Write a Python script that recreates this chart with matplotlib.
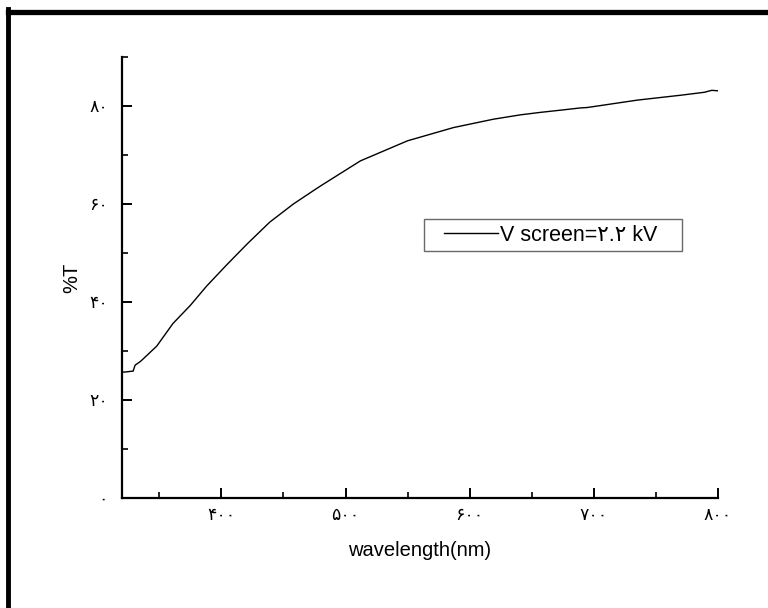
import matplotlib
matplotlib.use("Agg")
import matplotlib.pyplot as plt
from matplotlib.lines import Line2D
from matplotlib.legend_handler import HandlerLine2D
from matplotlib.ticker import MultipleLocator, FixedLocator

plt.rcParams['font.family'] = ['Liberation Sans', 'DejaVu Sans']

# data
wavelength = [320, 322, 329, 330.5, 335, 348, 361, 375, 388, 404, 421, 439, 458,
              474, 480, 512, 550, 587, 619, 641, 657, 675, 689, 695, 735, 770, 789, 795, 800]
transmit = [25.7, 25.7, 25.9, 27.1, 27.9, 31.0, 35.6, 39.3, 43.2, 47.5, 51.9, 56.3, 60.0,
            62.7, 63.7, 68.8, 72.9, 75.6, 77.3, 78.2, 78.7, 79.2, 79.6, 79.7, 81.2, 82.2, 82.8, 83.2, 83.1]

x_ticks = [400, 500, 600, 700, 800]
x_labels = ["۴۰۰", "۵۰۰", "۶۰۰", "۷۰۰", "۸۰۰"]
y_ticks = [0, 20, 40, 60, 80]
y_labels = ["۰", "۲۰", "۴۰", "۶۰", "۸۰"]
series_label = "V screen=۲.۲ kV"

fig = plt.figure(figsize=(7.68, 6.08), dpi=100)
ax = fig.add_axes([122/768, 110/608, 596/768, 441/608])

line, = ax.plot(wavelength, transmit, color="black", linewidth=1.0, label=series_label)

ax.set_xlim(320, 800)
ax.set_ylim(0, 90)
ax.xaxis.set_major_locator(FixedLocator(x_ticks))
ax.set_xticklabels(x_labels, fontsize=12.5)
ax.xaxis.set_minor_locator(MultipleLocator(50))
ax.yaxis.set_major_locator(FixedLocator(y_ticks))
ax.set_yticklabels(y_labels, fontsize=12.5)
ax.yaxis.set_minor_locator(MultipleLocator(10))

for s in ["top", "right"]:
    ax.spines[s].set_visible(False)
for s in ["left", "bottom"]:
    ax.spines[s].set_linewidth(1.6)

ax.tick_params(which="major", direction="in", length=7, width=1.4)
ax.tick_params(axis="x", which="major", pad=7)
ax.tick_params(axis="y", which="major", pad=10)
ax.tick_params(which="minor", direction="in", length=4, width=1.2)

ax.set_xlabel("wavelength(nm)", fontsize=14.5, labelpad=13)
ax.set_ylabel("%T", fontsize=14.5, labelpad=6)

leg = ax.legend(loc="lower left", bbox_to_anchor=(0.507, 0.560, 0.433, 0.073),
                mode="expand", fontsize=15.5, frameon=True, fancybox=False,
                handlelength=3.2, borderpad=0.25, handletextpad=0.05,
                borderaxespad=0, handler_map={line: HandlerLine2D(xpad=0.65)})
leg.get_frame().set_edgecolor("#444444")
leg.get_frame().set_linewidth(1.0)

# thick page border (top and left edges visible)
fig.add_artist(Line2D([8/768, 1.0], [1 - 11.5/608, 1 - 11.5/608],
                      color="black", linewidth=3.8, transform=fig.transFigure))
fig.add_artist(Line2D([8/768, 8/768], [0.0, 1 - 9/608],
                      color="black", linewidth=3.5, transform=fig.transFigure))

fig.savefig("out.png", dpi=100)
